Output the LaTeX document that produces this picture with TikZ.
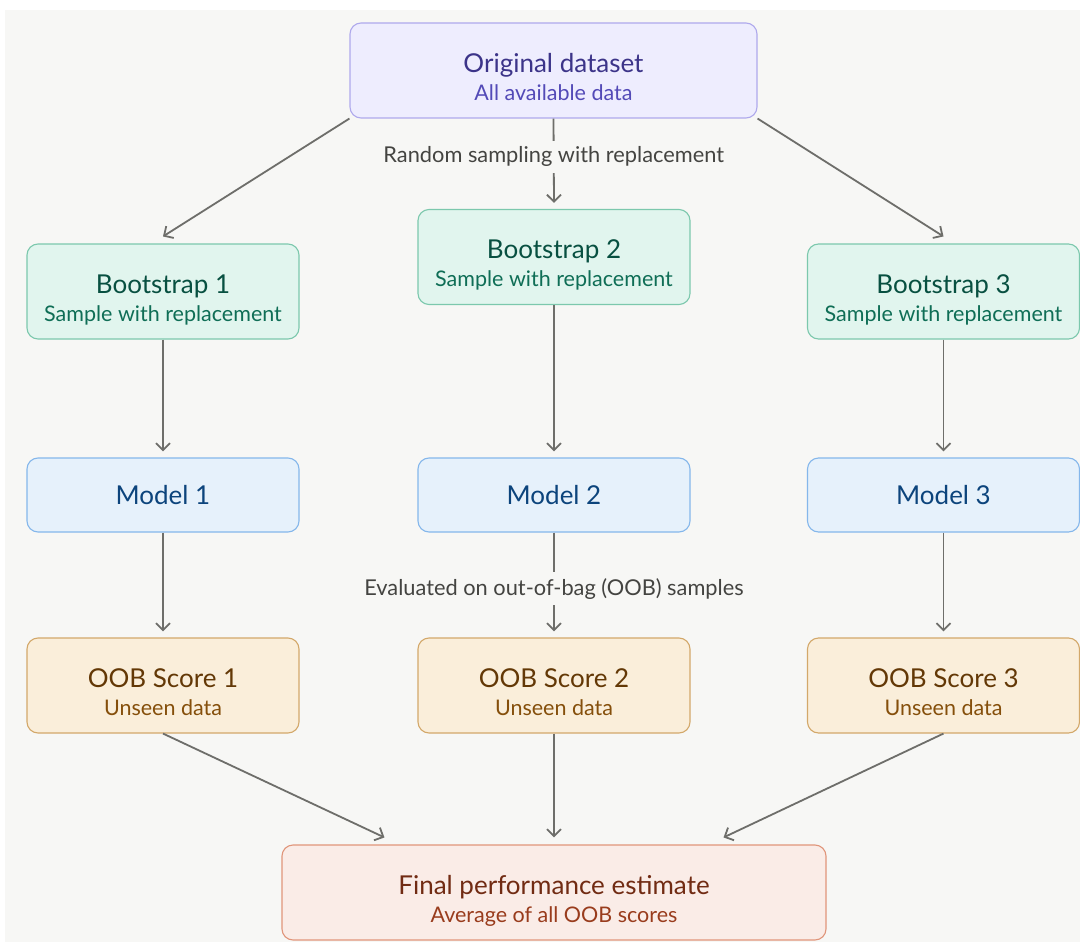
\documentclass[tikz,border=0pt]{standalone}
\usepackage{fontspec}
\setmainfont{Lato}
\usetikzlibrary{arrows.meta}
\definecolor{bgc}{HTML}{F7F7F5}
\definecolor{arrc}{HTML}{6E6E6A}
\definecolor{lblc}{HTML}{444441}
\definecolor{pF}{HTML}{EEEDFE}\definecolor{pD}{HTML}{AFA9EC}\definecolor{pT}{HTML}{3C3489}\definecolor{pS}{HTML}{534AB7}
\definecolor{gF}{HTML}{E1F5EE}\definecolor{gD}{HTML}{7CC8AD}\definecolor{gT}{HTML}{085041}\definecolor{gS}{HTML}{0F6E56}
\definecolor{bF}{HTML}{E6F1FB}\definecolor{bD}{HTML}{85B7EB}\definecolor{bT}{HTML}{0C447C}
\definecolor{aF}{HTML}{FAEEDA}\definecolor{aD}{HTML}{D3A86A}\definecolor{aT}{HTML}{633806}\definecolor{aS}{HTML}{854F0B}
\definecolor{cF}{HTML}{FAECE7}\definecolor{cD}{HTML}{E0957A}\definecolor{cT}{HTML}{712B13}\definecolor{cS}{HTML}{993C1D}
\tikzset{
  box/.style={rectangle, rounded corners=11pt, line width=1.1pt, align=center, inner sep=0pt, minimum height=95pt, minimum width=272pt},
  purplebox/.style={box, fill=pF, draw=pD, minimum width=407pt},
  greenbox/.style={box, fill=gF, draw=gD},
  bluebox/.style={box, fill=bF, draw=bD, minimum height=74pt},
  amberbox/.style={box, fill=aF, draw=aD},
  coralbox/.style={box, fill=cF, draw=cD, minimum width=544pt},
  arr/.style={draw=arrc, line width=1.8pt, -{Straight Barb[length=7pt,width=14pt,line width=1.8pt]}},
  lbl/.style={fill=bgc, text=lblc, font=\fontsize{21.8}{26}\selectfont, inner xsep=3pt, inner ysep=6pt},
  ttl/.style={font=\fontsize{26}{28}\selectfont},
}
\newcommand{\two}[4]{\fontsize{26}{28}\selectfont\renewcommand{\arraystretch}{1}%
  \begin{tabular}{@{}c@{}}\rule{0pt}{39.6pt}\textcolor{#1}{#2}\\
  \fontsize{21.5}{28}\selectfont\textcolor{#3}{#4}\end{tabular}}
\begin{document}
\begin{tikzpicture}[x=1pt,y=-1pt]
\useasboundingbox (0,0) rectangle (1080,942);
\fill[white] (0,0) rectangle (1080,942);
\fill[bgc] (5,10) rectangle (1080,942);

\node[purplebox] (orig) at (553.5,70.5) {\two{pT}{Original dataset}{pS}{All available data}};

\node[greenbox] (b1) at (163,291.5) {\two{gT}{Bootstrap 1}{gS}{Sample with replacement}};
\node[greenbox] (b2) at (554,257) {\two{gT}{Bootstrap 2}{gS}{Sample with replacement}};
\node[greenbox] (b3) at (943.5,291.5) {\two{gT}{Bootstrap 3}{gS}{Sample with replacement}};

\node[bluebox, text=bT, ttl] (m1) at (163,495) {Model 1};
\node[bluebox, text=bT, ttl] (m2) at (554,495) {Model 2};
\node[bluebox, text=bT, ttl] (m3) at (943.5,495) {Model 3};

\node[amberbox] (o1) at (163,685.5) {\two{aT}{OOB Score 1}{aS}{Unseen data}};
\node[amberbox] (o2) at (554,685.5) {\two{aT}{OOB Score 2}{aS}{Unseen data}};
\node[amberbox] (o3) at (943.5,685.5) {\two{aT}{OOB Score 3}{aS}{Unseen data}};

\node[coralbox] (fin) at (554,892.5) {\two{cT}{Final performance estimate}{cS}{Average of all OOB scores}};

\draw[arr] (orig.south west) -- ([yshift=7pt]b1.north);
\draw[arr] (orig.south) -- node[lbl, pos=0.45] {Random sampling with replacement} ([yshift=6pt]b2.north);
\draw[arr] (orig.south east) -- ([yshift=7pt]b3.north);

\draw[arr] (b1.south) -- ([yshift=6pt]m1.north);
\draw[arr] (b2.south) -- ([yshift=6pt]m2.north);
\draw[arr] (b3.south) -- ([yshift=6pt]m3.north);

\draw[arr] (m1.south) -- ([yshift=6pt]o1.north);
\draw[arr] (m2.south) -- node[lbl, pos=0.57] {Evaluated on out-of-bag (OOB) samples} ([yshift=6pt]o2.north);
\draw[arr] (m3.south) -- ([yshift=6pt]o3.north);

\draw[arr] (o1.south) -- ([xshift=103pt,yshift=7pt]fin.north west);
\draw[arr] (o2.south) -- ([yshift=7pt]fin.north);
\draw[arr] (o3.south) -- ([xshift=-103pt,yshift=7pt]fin.north east);
\end{tikzpicture}
\end{document}
